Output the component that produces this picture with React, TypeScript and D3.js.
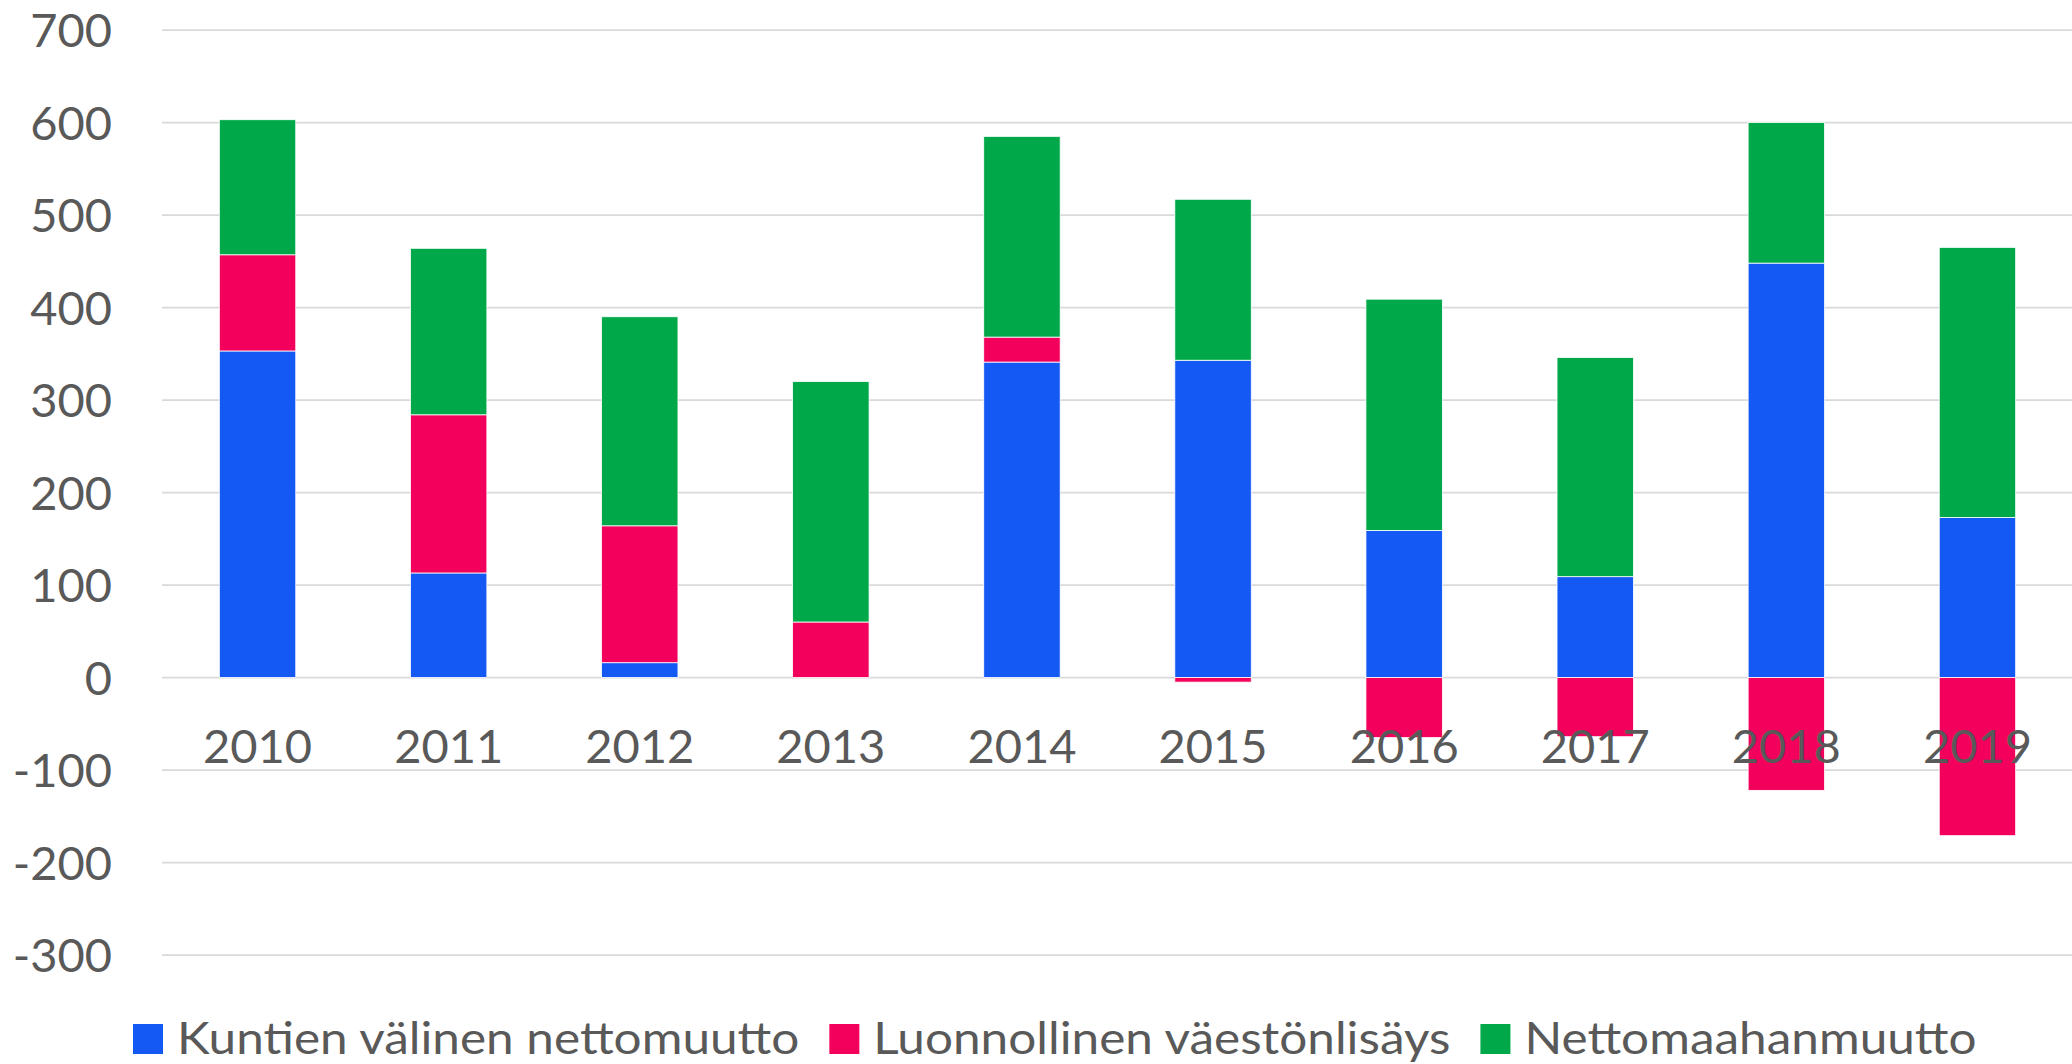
import { useEffect, useRef } from "react";
import * as d3 from "d3";

const years = ["2010", "2011", "2012", "2013", "2014", "2015", "2016", "2017", "2018", "2019"];
const kuntienValinen = [353, 113, 16, 0, 341, 343, 159, 109, 448, 173];
const luonnollinen = [104, 171, 148, 60, 27, -5, -65, -64, -122, -171];
const nettomaahanmuutto = [146, 180, 226, 260, 217, 174, 250, 237, 152, 292];
const seriesNames = ["Kuntien välinen nettomuutto", "Luonnollinen väestönlisäys", "Nettomaahanmuutto"];
const seriesColors = ["#1459F4", "#F2005C", "#00A84A"];
const yTicks = [-300, -200, -100, 0, 100, 200, 300, 400, 500, 600, 700];

const App = () => {
    const svgRef = useRef<SVGSVGElement>(null);
    const width = 2072;
    const height = 1064;

    useEffect(() => {
        const svg = d3.select(svgRef.current);
        svg.selectAll("*").remove();

        const font = "Lato, 'Open Sans', sans-serif";
        const textColor = "#595959";

        const rows = years.map((y, i) => ({
            year: y,
            k0: kuntienValinen[i],
            k1: luonnollinen[i],
            k2: nettomaahanmuutto[i],
        }));

        const x = d3.scaleBand().domain(years).range([162, 2073]).paddingInner(0.6).paddingOuter(0.3);
        const y = d3.scaleLinear().domain([-300, 700]).range([955, 30]);

        // grid lines
        svg.append("g")
            .selectAll("line")
            .data(yTicks)
            .join("line")
            .attr("x1", 162)
            .attr("x2", width)
            .attr("y1", (d) => y(d))
            .attr("y2", (d) => y(d))
            .attr("stroke", "#D9D9D9")
            .attr("stroke-width", 1.75);

        // y labels
        svg.append("g")
            .selectAll("text")
            .data(yTicks)
            .join("text")
            .attr("x", 112)
            .attr("y", (d) => y(d) + 17)
            .attr("text-anchor", "end")
            .attr("font-family", font)
            .attr("font-size", 47)
            .attr("fill", textColor)
            .text((d) => d);

        // stacked bars, negatives go below zero
        const stack = d3.stack<any>().keys(["k0", "k1", "k2"]).offset(d3.stackOffsetDiverging);
        const layers = stack(rows);

        svg.append("g")
            .selectAll("g")
            .data(layers)
            .join("g")
            .attr("fill", (d, i) => seriesColors[i])
            .selectAll("rect")
            .data((d) => d)
            .join("rect")
            .attr("x", (d) => x(d.data.year))
            .attr("width", x.bandwidth())
            .attr("y", (d) => y(Math.max(d[0], d[1])))
            .attr("height", (d) => Math.abs(y(d[0]) - y(d[1])))
            .attr("stroke", "#ffffff")
            .attr("stroke-width", 0.8);

        // x labels drawn over the bars
        svg.append("g")
            .selectAll("text")
            .data(years)
            .join("text")
            .attr("x", (d) => x(d) + x.bandwidth() / 2)
            .attr("y", 763)
            .attr("text-anchor", "middle")
            .attr("font-family", font)
            .attr("font-size", 47)
            .attr("fill", textColor)
            .text((d) => d);

        // legend (text a bit wider than Lato, like the original)
        const legend = svg.append("g");
        let lx = 133;
        seriesNames.forEach((name, i) => {
            legend.append("rect")
                .attr("x", lx)
                .attr("y", 1024)
                .attr("width", 30)
                .attr("height", 30)
                .attr("fill", seriesColors[i]);
            const t = legend.append("text")
                .attr("x", lx + 44)
                .attr("y", 1054)
                .attr("font-family", font)
                .attr("font-size", 45)
                .attr("fill", textColor)
                .text(name);
            const w = (t.node() as SVGTextElement).getComputedTextLength() * 1.1;
            t.attr("textLength", w).attr("lengthAdjust", "spacingAndGlyphs");
            lx = lx + 44 + w + 30;
        });
    }, []);

    return (
        <svg
            ref={svgRef}
            width={width}
            height={height}
            style={{ position: "absolute", left: 0, top: 0, background: "#ffffff" }}
        />
    );
};

export default App;
